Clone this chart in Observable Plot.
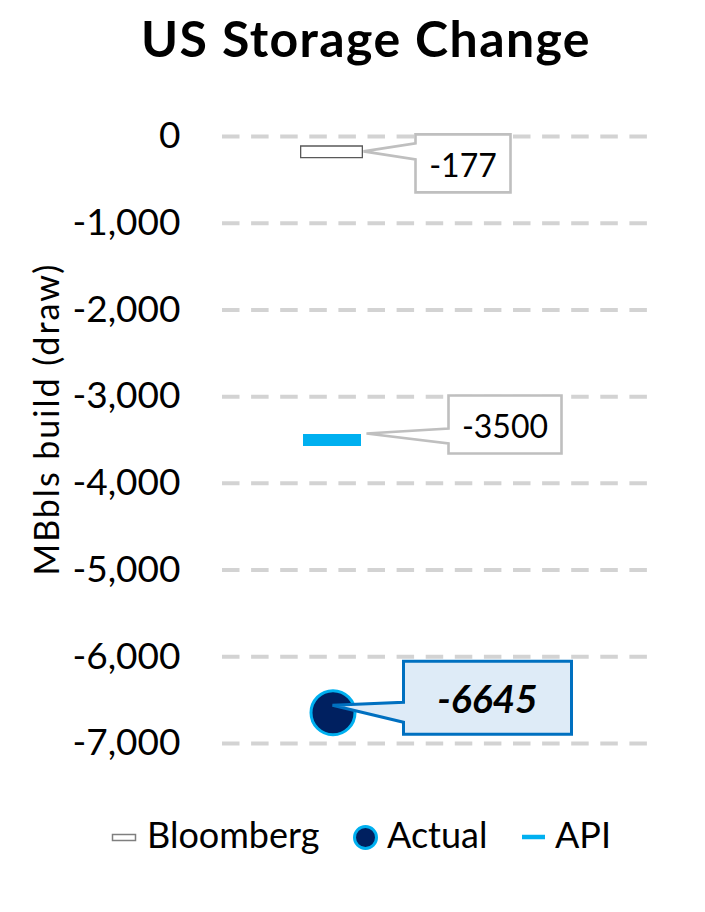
<!DOCTYPE html>
<html><head><meta charset="utf-8">
<script src="https://cdn.jsdelivr.net/npm/d3@7"></script>
<script src="https://cdn.jsdelivr.net/npm/@observablehq/plot@0.6"></script>
<style>
body{margin:0;background:#fff;font-family:Lato,"Open Sans",sans-serif;}
#wrap{width:705px;height:912px;position:relative;overflow:hidden;}
#title{box-sizing:border-box;height:95px;padding-top:13px;padding-left:27px;text-align:center;font-weight:700;font-size:50px;line-height:50px;letter-spacing:1.4px;color:#000;white-space:nowrap;}
#plot svg, #legend svg{display:block;}
</style></head><body>
<div id="wrap"><div id="title">US Storage Change</div><div id="plot"></div><div id="legend"></div></div>
<script>
// ---- data ----
const categories = ["Current week"];
const seriesNames = ["Bloomberg", "Actual", "API"];
const bloomberg = [-177];
const actual = [-6645];
const api = [-3500];
const yTicks = [0, -1000, -2000, -3000, -4000, -5000, -6000, -7000];
const yLabel = "MBbls build (draw)";

const rowsB = categories.map((c, i) => ({cat: c, v: bloomberg[i]}));
const rowsA = categories.map((c, i) => ({cat: c, v: actual[i]}));
const rowsP = categories.map((c, i) => ({cat: c, v: api[i]}));

const fmt = d => d.toLocaleString("en-US");

// callout style specs (pixel offsets from the marker)
const calloutSpecs = [
  {vals: bloomberg, tip: [31, 0], L: 83, R: 178, T: -17, B: 41, w1: -8, w2: 8, tdy: 14,
   fill: "#fff", stroke: "#BFBFBF", sw: 2.6, fs: 32, weight: 400, style: "normal"},
  {vals: api, tip: [34, -6], L: 116, R: 229, T: -44, B: 14, w1: -11, w2: 4, tdy: -12.5,
   fill: "#fff", stroke: "#BFBFBF", sw: 2.6, fs: 32, weight: 400, style: "normal"},
  {vals: actual, tip: [0, -7], L: 71, R: 239, T: -51, B: 22, w1: -10, w2: 10, tdy: -13,
   fill: "#DEEBF7", stroke: "#0070C0", sw: 3, fs: 39, weight: 700, style: "italic"}
];

function callouts(index, scales) {
  const x = scales.x, y = scales.y;
  const bw = x.bandwidth ? x.bandwidth() : 0;
  const g = d3.create("svg:g");
  for (const s of calloutSpecs) {
    s.vals.forEach((v, i) => {
      const cx = x(categories[i]) + bw / 2;
      const cy = y(v);
      const L = cx + s.L, R = cx + s.R, T = cy + s.T, B = cy + s.B;
      const tx = cx + s.tip[0], ty = cy + s.tip[1];
      g.append("path")
        .attr("d", `M${L},${T}H${R}V${B}H${L}V${cy + s.w2}L${tx},${ty}L${L},${cy + s.w1}Z`)
        .attr("fill", s.fill).attr("stroke", s.stroke).attr("stroke-width", s.sw)
        .attr("stroke-linejoin", "miter");
      g.append("text")
        .attr("x", (L + R) / 2)
        .attr("y", cy + s.tdy + 0.358 * s.fs)
        .attr("text-anchor", "middle")
        .attr("font-size", s.fs)
        .attr("font-weight", s.weight)
        .attr("font-style", s.style)
        .attr("fill", "#000")
        .text(fmt(v).replace(/,/g, ""));
    });
  }
  return g.node();
}

const chart = Plot.plot({
  width: 705,
  height: 700,
  marginLeft: 222,
  marginRight: 57,
  marginTop: 41,
  marginBottom: 52,
  style: {fontFamily: "Lato, 'Open Sans', sans-serif", color: "#000", background: "#fff"},
  x: {type: "band", domain: categories, range: [222, 443], padding: 0, axis: null},
  y: {domain: [-7000, 0], axis: null},
  marks: [
    Plot.ruleY(yTicks, {stroke: "#D3D3D3", strokeWidth: 4, strokeDasharray: "17.5,11.6"}),
    Plot.axisY(yTicks, {tickSize: 0, tickPadding: 42, tickFormat: fmt, fontSize: 37, label: null}),
    Plot.text([yLabel], {frameAnchor: "left", textAnchor: "middle", lineAnchor: "middle", rotate: -90, dx: -174, dy: -21,
      fontSize: 34, fill: "#000"}),
    Plot.tickY(rowsB, {x: "cat", y: "v", stroke: "#595959", strokeWidth: 13, insetLeft: 78, insetRight: 80}),
    Plot.tickY(rowsB, {x: "cat", y: "v", stroke: "#fff", strokeWidth: 10.4, insetLeft: 79.3, insetRight: 81.3}),
    Plot.tickY(rowsP, {x: "cat", y: "v", stroke: "#00B0F0", strokeWidth: 12, insetLeft: 81, insetRight: 82}),
    Plot.dot(rowsA, {x: "cat", y: "v", r: 22, fill: "#002060", stroke: "#00B0F0", strokeWidth: 3}),
    callouts
  ]
});
document.getElementById("plot").appendChild(chart);
// letter spacing for the y label
d3.select(chart).selectAll("text").filter(function() { return this.textContent === yLabel; })
  .style("letter-spacing", "2px");

// ---- legend ----
const lg = d3.select("#legend").append("svg")
  .attr("width", 705).attr("height", 117)
  .style("font-family", "Lato, 'Open Sans', sans-serif");
const items = [
  {name: seriesNames[0], tx: 147, draw: s => s.append("rect").attr("x", 112.5).attr("y", 39.5).attr("width", 23).attr("height", 6)
      .attr("fill", "#fff").attr("stroke", "#7F7F7F").attr("stroke-width", 1.5)},
  {name: seriesNames[1], tx: 387, draw: s => s.append("circle").attr("cx", 365.5).attr("cy", 42.5).attr("r", 11)
      .attr("fill", "#002060").attr("stroke", "#00B0F0").attr("stroke-width", 3)},
  {name: seriesNames[2], tx: 555, draw: s => s.append("line").attr("x1", 522).attr("x2", 545).attr("y1", 42).attr("y2", 42)
      .attr("stroke", "#00B0F0").attr("stroke-width", 4.5)}
];
for (const it of items) {
  it.draw(lg);
  lg.append("text").attr("x", it.tx).attr("y", 53).attr("font-size", 36).attr("fill", "#000").text(it.name);
}
</script>
</body></html>
